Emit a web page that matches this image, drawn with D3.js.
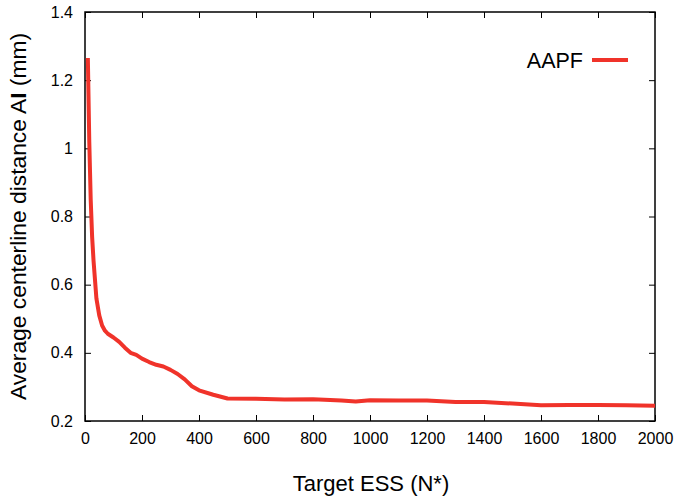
<!DOCTYPE html>
<html>
<head>
<meta charset="utf-8">
<script src="https://cdn.jsdelivr.net/npm/d3@7"></script>
<style>
  body { margin: 0; background: #fff; }
  text { font-family: "Liberation Sans", Arial, sans-serif; fill: #000; }
</style>
</head>
<body>
<svg id="chart"></svg>
<script>
// Chart size and plot box
const width = 676;
const height = 504;
const margin = {top: 12, right: 21, bottom: 83, left: 85};

// Data
const essValues = [10, 15, 20, 25, 30, 40, 50, 60, 70, 80, 100, 120, 140, 160, 180, 200, 225, 250, 275, 300,
  325, 350, 375, 400, 450, 500, 600, 700, 800, 900, 950, 1000, 1100, 1200, 1300, 1400, 1500, 1600, 1700, 1800, 1900, 2000];
const distValues = [1.265, 1.02, 0.85, 0.74, 0.67, 0.56, 0.51, 0.48, 0.465, 0.456, 0.445, 0.432, 0.415, 0.40, 0.394, 0.383, 0.373, 0.365, 0.36, 0.35,
  0.338, 0.322, 0.302, 0.29, 0.277, 0.266, 0.265, 0.263, 0.264, 0.26, 0.257, 0.261, 0.26, 0.26, 0.256, 0.256, 0.251, 0.246, 0.247, 0.247, 0.246, 0.245];
const xTicks = [0, 200, 400, 600, 800, 1000, 1200, 1400, 1600, 1800, 2000];
const yTicks = [0.2, 0.4, 0.6, 0.8, 1, 1.2, 1.4];
const seriesName = "AAPF";

const data = essValues.map((n, i) => ({n: n, v: distValues[i]}));

const svg = d3.select("#chart")
  .attr("width", width)
  .attr("height", height);

const x = d3.scaleLinear().domain([0, 2000]).range([margin.left, width - margin.right]);
const y = d3.scaleLinear().domain([0.2, 1.4]).range([height - margin.bottom, margin.top]);

const tickLen = 6;

// Ticks on all four sides, pointing inward
svg.append("g")
  .attr("transform", `translate(0,${y(0.2)})`)
  .call(d3.axisBottom(x).tickValues(xTicks).tickSize(-tickLen).tickPadding(12).tickFormat(d3.format("d")))
  .call(g => g.select(".domain").remove())
  .call(g => g.selectAll("text").attr("font-size", 16).attr("font-family", "Liberation Sans, Arial, sans-serif"));

svg.append("g")
  .attr("transform", `translate(0,${y(1.4)})`)
  .call(d3.axisTop(x).tickValues(xTicks).tickSize(-tickLen).tickFormat(""))
  .call(g => g.select(".domain").remove());

svg.append("g")
  .attr("transform", `translate(${x(0)},0)`)
  .call(d3.axisLeft(y).tickValues(yTicks).tickSize(-tickLen).tickPadding(12).tickFormat(d => d3.format("")(d)))
  .call(g => g.select(".domain").remove())
  .call(g => g.selectAll("text").attr("font-size", 16).attr("font-family", "Liberation Sans, Arial, sans-serif"));

svg.append("g")
  .attr("transform", `translate(${x(2000)},0)`)
  .call(d3.axisRight(y).tickValues(yTicks).tickSize(-tickLen).tickFormat(""))
  .call(g => g.select(".domain").remove());

svg.selectAll(".tick line").attr("stroke", "#000").attr("stroke-width", 1);

// Plot frame
svg.append("rect")
  .attr("x", x(0))
  .attr("y", y(1.4))
  .attr("width", x(2000) - x(0))
  .attr("height", y(0.2) - y(1.4))
  .attr("fill", "none")
  .attr("stroke", "#000")
  .attr("stroke-width", 1.5);

// The curve
const line = d3.line()
  .x(d => x(d.n))
  .y(d => y(d.v));

svg.append("path")
  .datum(data)
  .attr("d", line)
  .attr("fill", "none")
  .attr("stroke", "#f0332a")
  .attr("stroke-width", 4)
  .attr("stroke-linejoin", "round");

// Legend
svg.append("text")
  .attr("x", 583)
  .attr("y", 68)
  .attr("text-anchor", "end")
  .attr("font-size", 21.5)
  .text(seriesName);

svg.append("line")
  .attr("x1", 592)
  .attr("x2", 628)
  .attr("y1", 60)
  .attr("y2", 60)
  .attr("stroke", "#f0332a")
  .attr("stroke-width", 4);

// Axis titles
svg.append("text")
  .attr("x", 371)
  .attr("y", 491)
  .attr("text-anchor", "middle")
  .attr("font-size", 22)
  .text("Target ESS (N*)");

const yTitle = svg.append("text")
  .attr("transform", `translate(26,${(y(0.2) + y(1.4)) / 2}) rotate(-90)`)
  .attr("text-anchor", "middle")
  .attr("font-size", 22.8);
yTitle.append("tspan").text("Average centerline distance A");
yTitle.append("tspan").attr("font-weight", "bold").text("I");
yTitle.append("tspan").text(" (mm)");
</script>
</body>
</html>
